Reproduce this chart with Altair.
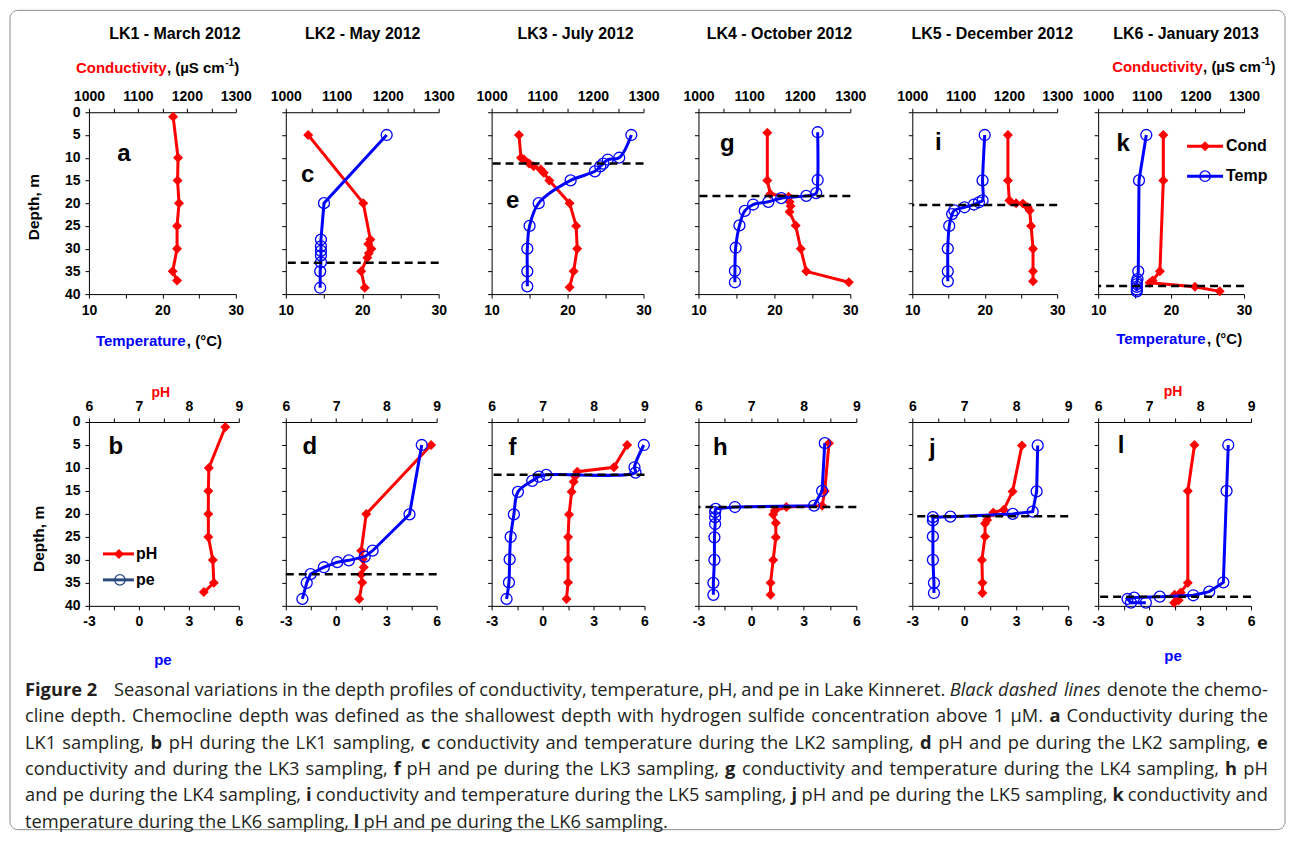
import altair as alt
import pandas as pd

# ---------------- data ----------------
campaigns = ["LK1 - March 2012", "LK2 - May 2012", "LK3 - July 2012",
             "LK4 - October 2012", "LK5 - December 2012", "LK6 - January 2013"]
top_letters = ["a", "c", "e", "g", "i", "k"]
bottom_letters = ["b", "d", "f", "h", "j", "l"]
chemocline_top = [None, 33.1, 11.3, 18.4, 20.4, 38.2]
chemocline_bottom = [None, 33.1, 11.5, 18.5, 20.5, 38.0]

depth_ticks = [0, 5, 10, 15, 20, 25, 30, 35, 40]
cond_ticks = [1000, 1050, 1100, 1150, 1200, 1250, 1300]
cond_labels = [1000, 1100, 1200, 1300]
temp_ticks = [10, 15, 20, 25, 30]
temp_labels = [10, 20, 30]
ph_ticks = [6, 6.5, 7, 7.5, 8, 8.5, 9]
ph_labels = [6, 7, 8, 9]
pe_ticks = [-3, -1.5, 0, 1.5, 3, 4.5, 6]
pe_labels = [-3, 0, 3, 6]

LK1_cond_depth = [1, 10, 15, 20, 25, 30, 35, 37]
LK1_cond = [1172, 1182, 1181, 1184, 1180, 1180, 1171, 1180]
LK1_ph_depth = [1.1, 10, 15, 20, 25, 30, 35, 37]
LK1_ph = [8.73, 8.40, 8.39, 8.39, 8.39, 8.48, 8.50, 8.30]

LK2_cond_depth = [5, 20, 28, 29, 30, 31, 32, 35, 38.6]
LK2_cond = [1044, 1152, 1166, 1162, 1168, 1163, 1160, 1148, 1155]
LK2_temp_depth = [5, 20, 28, 29.5, 30.5, 31.5, 33, 35, 38.6]
LK2_temp = [23.2, 15.0, 14.6, 14.6, 14.6, 14.6, 14.6, 14.5, 14.5]
LK2_ph_depth = [5, 20, 28, 29.8, 31.6, 33.2, 34.9, 38.5]
LK2_ph = [8.89, 7.60, 7.50, 7.53, 7.55, 7.50, 7.52, 7.46]
LK2_pe_depth = [5, 20.1, 28, 29.3, 30.1, 30.5, 31.6, 33.1, 35, 38.5]
LK2_pe = [5.11, 4.38, 2.18, 1.71, 0.76, 0.07, -0.73, -1.52, -1.75, -2.01]

LK3_cond_depth = [5, 10, 10.4, 11.3, 11.9, 12.6, 13.3, 15, 20, 25, 30, 35, 38.5]
LK3_cond = [1054, 1058, 1064, 1074, 1083, 1097, 1103, 1114, 1154, 1167, 1169, 1162, 1154]
LK3_temp_depth = [5, 10, 10.4, 11.3, 11.9, 13, 15, 20, 25, 30, 35, 38.3]
LK3_temp = [28.4, 26.8, 25.3, 24.7, 24.3, 23.6, 20.4, 16.2, 15.0, 14.7, 14.7, 14.7]
LK3_ph_depth = [5, 9.85, 10.8, 11.8, 13, 15.2, 20.1, 25, 29.9, 34.9, 38.5]
LK3_ph = [8.66, 8.40, 7.68, 7.64, 7.61, 7.57, 7.52, 7.50, 7.50, 7.50, 7.47]
LK3_pe_depth = [5, 9.85, 11, 11.5, 11.9, 12.8, 15.2, 20.1, 25, 29.9, 34.9, 38.5]
LK3_pe = [5.96, 5.41, 5.47, 0.22, -0.22, -0.61, -1.45, -1.69, -1.88, -1.94, -1.98, -2.12]

LK4_cond_depth = [4.5, 15, 18, 18.6, 19.7, 20.6, 21.9, 24.9, 30, 35, 37.4]
LK4_cond = [1136, 1136, 1142, 1178, 1180, 1182, 1180, 1192, 1202, 1213, 1297]
LK4_temp_depth = [4.4, 14.9, 17.8, 18.4, 18.9, 19.7, 20.3, 21.7, 24.9, 29.8, 34.9, 37.4]
LK4_temp = [25.7, 25.7, 25.5, 24.2, 20.9, 19.2, 17.2, 16.1, 15.4, 14.9, 14.8, 14.8]
LK4_ph_depth = [4.6, 15, 18.2, 18.5, 19.3, 20.1, 22, 25.1, 30, 35, 37.6]
LK4_ph = [8.48, 8.40, 8.35, 7.67, 7.45, 7.42, 7.47, 7.47, 7.42, 7.37, 7.37]
LK4_pe_depth = [4.6, 15, 18.2, 18.5, 18.9, 19.6, 20.7, 22.2, 25.1, 30, 35, 37.6]
LK4_pe = [4.20, 4.05, 3.59, -0.92, -2.02, -2.05, -2.05, -2.05, -2.09, -2.09, -2.15, -2.15]

LK5_cond_depth = [5, 15, 19.4, 20, 20.1, 20.9, 21.6, 25, 30, 35, 37.2]
LK5_cond = [1198, 1198, 1201, 1215, 1229, 1239, 1243, 1246, 1250, 1250, 1250]
LK5_temp_depth = [5, 15, 19.4, 19.8, 20.3, 20.9, 21.6, 22.4, 25, 30, 35, 37.2]
LK5_temp = [20.0, 19.7, 19.7, 19.2, 18.5, 17.2, 15.8, 15.5, 15.1, 14.9, 14.9, 14.9]
LK5_ph_depth = [5.1, 15.1, 19.1, 19.7, 21.3, 22.1, 24.9, 30, 35, 37.2]
LK5_ph = [8.11, 7.93, 7.76, 7.56, 7.44, 7.40, 7.40, 7.34, 7.35, 7.35]
LK5_pe_depth = [5.1, 15.1, 19.5, 20, 20.6, 20.7, 21.4, 24.9, 30, 35, 37.2]
LK5_pe = [4.24, 4.18, 3.95, 2.80, -0.80, -1.81, -1.81, -1.81, -1.81, -1.75, -1.75]

LK6_cond_depth = [5, 15, 35, 37, 37.5, 38.4, 39.4]
LK6_cond = [1134, 1134, 1127, 1112, 1106, 1199, 1250]
LK6_temp_depth = [5, 15, 35, 36.7, 37.3, 37.8, 38.4, 39, 39.4]
LK6_temp = [16.6, 15.6, 15.5, 15.4, 15.3, 15.3, 15.3, 15.3, 15.3]
LK6_ph_depth = [5, 15, 35, 37.1, 37.6, 38.2, 38.8, 39.3]
LK6_ph = [7.89, 7.76, 7.76, 7.62, 7.50, 7.55, 7.58, 7.49]
LK6_pe_depth = [5, 15, 34.9, 36.9, 37.7, 38, 38.2, 38.5, 39.3, 39.3]
LK6_pe = [4.66, 4.56, 4.37, 3.54, 2.60, 0.63, -0.88, -1.27, -1.07, -0.19]

cond_series = [(LK1_cond_depth, LK1_cond), (LK2_cond_depth, LK2_cond), (LK3_cond_depth, LK3_cond),
               (LK4_cond_depth, LK4_cond), (LK5_cond_depth, LK5_cond), (LK6_cond_depth, LK6_cond)]
temp_series = [None, (LK2_temp_depth, LK2_temp), (LK3_temp_depth, LK3_temp),
               (LK4_temp_depth, LK4_temp), (LK5_temp_depth, LK5_temp), (LK6_temp_depth, LK6_temp)]
ph_series = [(LK1_ph_depth, LK1_ph), (LK2_ph_depth, LK2_ph), (LK3_ph_depth, LK3_ph),
             (LK4_ph_depth, LK4_ph), (LK5_ph_depth, LK5_ph), (LK6_ph_depth, LK6_ph)]
pe_series = [None, (LK2_pe_depth, LK2_pe), (LK3_pe_depth, LK3_pe),
             (LK4_pe_depth, LK4_pe), (LK5_pe_depth, LK5_pe), (LK6_pe_depth, LK6_pe)]

# caption: runs of (text, style) per printed line; n = normal, b = bold, i = italic
caption_runs = [
    [("Figure 2", "b"),
     ("Seasonal variations in the depth profiles of conductivity, temperature, pH, and pe in Lake Kinneret.", "n"),
     ("Black dashed lines", "i"), ("denote the chemo-", "n")],
    [("cline depth. Chemocline depth was defined as the shallowest depth with hydrogen sulfide concentration above 1 \u03bcM.", "n"),
     ("a", "b"), ("Conductivity during the", "n")],
    [("LK1 sampling,", "n"), ("b", "b"), ("pH during the LK1 sampling,", "n"), ("c", "b"),
     ("conductivity and temperature during the LK2 sampling,", "n"), ("d", "b"),
     ("pH and pe during the LK2 sampling,", "n"), ("e", "b")],
    [("conductivity and during the LK3 sampling,", "n"), ("f", "b"),
     ("pH and pe during the LK3 sampling,", "n"), ("g", "b"),
     ("conductivity and temperature during the LK4 sampling,", "n"), ("h", "b"), ("pH", "n")],
    [("and pe during the LK4 sampling,", "n"), ("i", "b"),
     ("conductivity and temperature during the LK5 sampling,", "n"), ("j", "b"),
     ("pH and pe during the LK5 sampling,", "n"), ("k", "b"), ("conductivity and", "n")],
    [("temperature during the LK6 sampling,", "n"), ("l", "b"),
     ("pH and pe during the LK6 sampling.", "n")],
]

# ---------------- styling / layout ----------------
FONT = "Liberation Sans"
CAPFONT = "Open Sans"
CAPSIZE = 18.3
RED = "#ff0000"
BLUE = "#0000ff"
PE_LEG = "#2b4a80"

top_widths = [147, 153, 152, 152, 145, 146]
bottom_widths = [150, 151, 153, 158, 156, 153]
gaps = [47, 53, 54, 56, 30]
top_height = 182
bottom_height = 184
row_gap = 128
ORIGIN_X = 88  # page x of first column

title_x = [86, 77, 84, 81, 80, 88]
letters_top = [(35, 42), (22, 63), (21, 89), (29, 32), (26, 31), (25, 32)]
letters_bottom = [(27, 25), (24, 25), (21, 26), (22, 26), (20, 27), (23, 24)]
smooth_top = [False, False, True, True, True, False]
smooth_bottom = [False, False, True, False, False, False]

one = pd.DataFrame({"k": [0]})

# Open Sans advance widths (units per 2048 em) for caption layout
OS_W = {' ': 532, ',': 502, '.': 545, '-': 659, '(': 606, ')': 606, ':': 545,
        'A': 1296, 'B': 1327, 'C': 1292, 'D': 1493, 'E': 1139, 'F': 1057, 'G': 1491, 'H': 1511,
        'I': 571, 'J': 547, 'K': 1257, 'L': 1063, 'M': 1849, 'N': 1544, 'O': 1595, 'P': 1233,
        'Q': 1595, 'R': 1266, 'S': 1124, 'T': 1139, 'U': 1511, 'V': 1206, 'W': 1853, 'X': 1186,
        'Y': 1163, 'Z': 1165, 'a': 1133, 'b': 1255, 'c': 975, 'd': 1255, 'e': 1149, 'f': 694,
        'g': 1122, 'h': 1257, 'i': 518, 'j': 518, 'k': 1075, 'l': 518, 'm': 1905, 'n': 1257,
        'o': 1237, 'p': 1255, 'q': 1255, 'r': 836, 's': 977, 't': 723, 'u': 1257, 'v': 1026,
        'w': 1593, 'x': 1073, 'y': 1028, 'z': 977, '\u03bc': 1266}
for _d in "0123456789":
    OS_W[_d] = 1171
STYLE_FACTOR = {"n": 1.0, "b": 1.08, "i": 0.98}


def text_width(s, style):
    return sum(OS_W.get(c, 1100) for c in s) / 2048.0 * CAPSIZE * STYLE_FACTOR[style]


def layout_caption():
    rows = []
    left = 24 - ORIGIN_X
    right = 1268 - ORIGIN_X
    line_y = [690, 716.5, 743, 769, 795.5, 822]
    for li, runs in enumerate(caption_runs):
        y = line_y[li] - 421
        words = []
        start = left
        for text, st in runs:
            if li == 0 and st == "b":
                rows.append({"w": text, "x": left, "y": y, "s": st})
                start = 113 - ORIGIN_X
                continue
            for w in text.split(" "):
                words.append((w, st))
        widths = [text_width(w, st) for w, st in words]
        space = text_width(" ", "n")
        if li < len(caption_runs) - 1:
            gap = (right - start - sum(widths)) / max(1, len(words) - 1)
        else:
            gap = space
        x = start
        for (w, st), wd in zip(words, widths):
            rows.append({"w": w, "x": x, "y": y, "s": st})
            x += wd + gap
    return pd.DataFrame(rows)


def series_df(s):
    if s is None:
        return pd.DataFrame({"depth": pd.Series([], dtype=float),
                             "v": pd.Series([], dtype=float),
                             "i": pd.Series([], dtype=float)})
    d, v = s
    return pd.DataFrame({"depth": d, "v": v, "i": list(range(len(d)))})


def label_expr(labels):
    arr = ",".join(str(x) for x in labels)
    return "indexof([" + arr + "], datum.value) >= 0 ? '' + datum.value : ''"


def xaxis(orient, ticks, labels):
    return alt.Axis(orient=orient, values=ticks, labelExpr=label_expr(labels), title="",
                    labelFlush=False, labelOverlap=False, grid=False, tickSize=4,
                    labelPadding=5, domainColor="black", tickColor="black")


def txt(s, x, y, size=15, color="black", weight="bold", align="left", font=FONT,
        angle=None, style=None, baseline="middle"):
    kw = dict(align=align, baseline=baseline, fontSize=size, fontWeight=weight,
              color=color, font=font)
    if angle is not None:
        kw["angle"] = angle
    if style is not None:
        kw["fontStyle"] = style
    return alt.Chart(one).mark_text(**kw).encode(
        x=alt.value(x), y=alt.value(y), text=alt.value(s))


def glyph_line(x1, x2, y, color):
    return alt.Chart(one).mark_rule(color=color, strokeWidth=3).encode(
        x=alt.value(x1), x2=alt.value(x2), y=alt.value(y))


def glyph_point(x, y, shape, color, filled):
    return alt.Chart(one).mark_point(shape=shape, filled=filled, color=color,
                                     size=100 if filled else 110, opacity=1,
                                     strokeWidth=1.3).encode(x=alt.value(x), y=alt.value(y))


def caption_layers():
    df = layout_caption()
    out = []
    for st in ("n", "b", "i"):
        sub = df[df["s"] == st]
        kw = dict(align="left", baseline="middle", font=CAPFONT, fontSize=CAPSIZE,
                  color="#231f20", fontWeight="bold" if st == "b" else "normal")
        if st == "i":
            kw["fontStyle"] = "italic"
        out.append(
            alt.Chart(sub).mark_text(**kw).encode(
                x=alt.X("x:Q", scale=None, axis=None),
                y=alt.Y("y:Q", scale=None, axis=None),
                text="w:N",
            )
        )
    return out


def make_panel(row, k):
    top = row == 0
    width = top_widths[k] if top else bottom_widths[k]
    height = top_height if top else bottom_height
    first = k == 0
    yscale = alt.Scale(domain=[0, 40], reverse=True, nice=False, zero=False)
    yaxis = alt.Axis(values=depth_ticks, labels=first, title="", format="d", grid=False,
                     tickSize=4, labelPadding=5, domainColor="black", tickColor="black")
    if top:
        red_s, blue_s = cond_series[k], temp_series[k]
        red_dom, blue_dom = [1000, 1300], [10, 30]
        red_ax = xaxis("top", cond_ticks, cond_labels)
        blue_ax = xaxis("bottom", temp_ticks, temp_labels)
        chemo = chemocline_top[k]
        letter, (lx, ly) = top_letters[k], letters_top[k]
        smooth = smooth_top[k]
    else:
        red_s, blue_s = ph_series[k], pe_series[k]
        red_dom, blue_dom = [6, 9], [-3, 6]
        red_ax = xaxis("top", ph_ticks, ph_labels)
        blue_ax = xaxis("bottom", pe_ticks, pe_labels)
        chemo = chemocline_bottom[k]
        letter, (lx, ly) = bottom_letters[k], letters_bottom[k]
        smooth = smooth_bottom[k]

    layers = []
    layers.append(
        alt.Chart(series_df(red_s)).mark_line(
            color=RED, strokeWidth=3,
            point=alt.OverlayMarkDef(shape="diamond", filled=True, color=RED, size=100, opacity=1)
        ).encode(
            x=alt.X("v:Q", scale=alt.Scale(domain=red_dom, nice=False, zero=False), axis=red_ax),
            y=alt.Y("depth:Q", scale=yscale, axis=yaxis),
            order="i:Q",
        )
    )
    layers.append(
        alt.Chart(series_df(blue_s)).mark_line(
            color=BLUE, strokeWidth=3, interpolate="catmull-rom" if smooth else "linear",
            point=alt.OverlayMarkDef(shape="circle", filled=False, color=BLUE, size=120,
                                     strokeWidth=1.3, opacity=1)
        ).encode(
            x=alt.X("v:Q", scale=alt.Scale(domain=blue_dom, nice=False, zero=False), axis=blue_ax),
            y=alt.Y("depth:Q", scale=yscale, axis=yaxis),
            order="i:Q",
        )
    )
    if chemo is not None:
        layers.append(
            alt.Chart(pd.DataFrame({"depth": [chemo]})).mark_rule(
                color="black", strokeWidth=2.5, strokeDash=[8, 5]
            ).encode(y=alt.Y("depth:Q", scale=yscale, axis=yaxis))
        )
    layers.append(txt(letter, lx, ly, size=24, align="center"))

    if top:
        layers.append(txt(campaigns[k], title_x[k], -78, size=16, align="center"))
        if k in (0, 5):
            x0 = -13 if k == 0 else 14
            yc = -44 if k == 0 else -45
            layers.append(txt("Conductivity", x0, yc, color=RED))
            layers.append(txt(", (\u00b5S cm", x0 + 91, yc))
            layers.append(txt("-1", x0 + 149.4, yc - 5, size=10))
            layers.append(txt(")", x0 + 158.5, yc))
            t0 = 7 if k == 0 else 18
            ty = 229 if k == 0 else 227
            layers.append(txt("Temperature", t0, ty, color=BLUE))
            layers.append(txt(", (\u00b0C)", t0 + 91, ty))
        if k == 0:
            layers.append(txt("Depth, m", -55, 95, size=15.5, align="center", angle=270))
        if k == 5:
            layers.append(glyph_line(89, 125, 34, RED))
            layers.append(glyph_point(107, 34, "diamond", RED, True))
            layers.append(txt("Cond", 128, 34, size=16))
            layers.append(glyph_line(89, 125, 64, BLUE))
            layers.append(glyph_point(107, 64, "circle", BLUE, False))
            layers.append(txt("Temp", 128, 64, size=16))
    else:
        if k in (0, 5):
            px, py = (72, -29) if k == 0 else (75, -30)
            layers.append(txt("pH", px, py, size=14, color=RED, align="center"))
            ex, ey = (74, 238) if k == 0 else (75, 234)
            layers.append(txt("pe", ex, ey, size=15, color=BLUE, align="center"))
        if k == 0:
            layers.append(txt("Depth, m", -50, 117, size=15.5, align="center", angle=270))
            layers.append(glyph_line(14, 45, 132, RED))
            layers.append(glyph_point(30, 132, "diamond", RED, True))
            layers.append(txt("pH", 47, 132, size=16))
            layers.append(glyph_line(14, 45, 158, PE_LEG))
            layers.append(glyph_point(31, 158, "circle", PE_LEG, False))
            layers.append(txt("pe", 47, 158, size=16))
            # outer frame
            layers.append(
                alt.Chart(one).mark_rect(fillOpacity=0, stroke="#8c8c8c", strokeWidth=1,
                                         cornerRadius=8).encode(
                    x=alt.value(-79), x2=alt.value(1197), y=alt.value(-412), y2=alt.value(408))
            )
            layers.extend(caption_layers())

    return alt.layer(*layers).resolve_scale(x="independent").properties(width=width, height=height)


def spacer(w, h):
    return alt.Chart(one).mark_point(opacity=0).encode(
        x=alt.value(0), y=alt.value(0)).properties(width=w, height=h)


items = []
for row in (0, 1):
    for k in range(6):
        items.append(make_panel(row, k))
        if k < 5:
            items.append(spacer(gaps[k], 10))

chart = alt.concat(
    *items, columns=11, spacing={"row": row_gap, "column": 0}, bounds="flush", align="each"
).properties(padding=1).configure_view(strokeWidth=0).configure_axis(
    labelFont=FONT, labelFontWeight="bold", labelFontSize=14, labelColor="black"
)

chart.save("out.html", embed_options={"renderer": "svg", "actions": False})
